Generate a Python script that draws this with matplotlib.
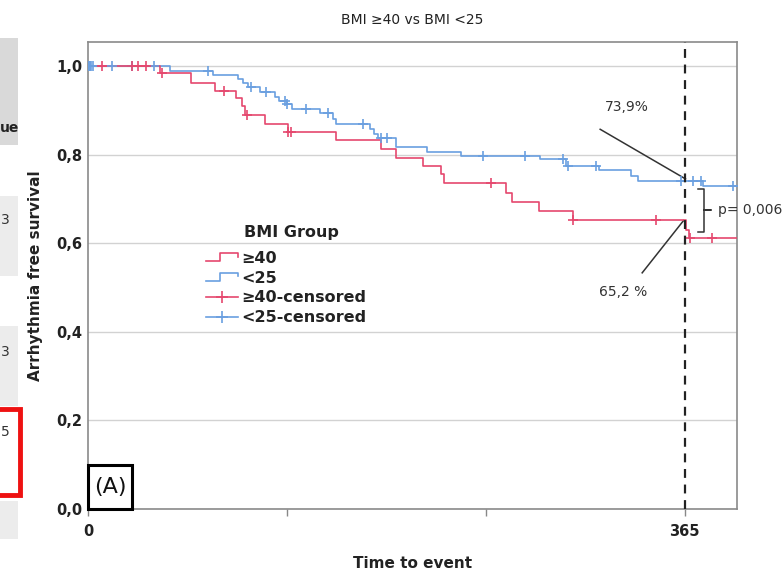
import numpy as np
import matplotlib.pyplot as plt
from matplotlib.lines import Line2D
from matplotlib.patches import Rectangle
from matplotlib.legend_handler import HandlerBase

plt.rcParams['font.family'] = ['DejaVu Sans']

# Kaplan-Meier steps (time in days, survival after step)
red_t = [0, 44, 63, 77.6, 90.5, 94, 96, 108, 122.5, 152, 179.5, 188.7, 205,
         216, 217.5, 256, 259.6, 276, 296.7, 365.5, 367.5]
red_s = [1.0, 0.983, 0.962, 0.944, 0.928, 0.910, 0.890, 0.870, 0.852, 0.832,
         0.812, 0.792, 0.774, 0.755, 0.735, 0.714, 0.692, 0.673, 0.652, 0.630, 0.611]
red_cens = [8.4, 26.7, 30.8, 35.5, 45.4, 83, 97, 122.5, 124, 246.7, 296.7,
            347.6, 368, 382]

blue_t = [0, 50, 76.6, 92, 95, 98, 105, 114.6, 117, 121.5, 124.5, 141.8, 150,
          152, 172.4, 175, 177.5, 188.7, 207.5, 228, 276.3, 292.6, 312.5, 332.3,
          336.4, 376]
blue_s = [1.0, 0.989, 0.980, 0.970, 0.961, 0.952, 0.941, 0.930, 0.921, 0.913,
          0.903, 0.894, 0.880, 0.870, 0.858, 0.847, 0.837, 0.816, 0.806, 0.797,
          0.789, 0.775, 0.764, 0.752, 0.741, 0.730]
blue_cens = [0, 0.7, 1.4, 2.1, 2.8, 14.5, 26.7, 40.3, 73.5, 100, 109, 120.4,
             121.5, 133.6, 146.7, 168.3, 179.5, 182.6, 241.6, 267.1, 290.6,
             293.6, 311, 362.9, 370, 375, 394.5]
t_end = 398

labels = ['\u226540', '<25', '\u226540-censored', '<25-censored']
RED = '#e5486e'
BLUE = '#6a9fe0'


def surv_at(t, s, c):
    idx = np.searchsorted(t, c, side='right') - 1
    return np.array(s)[idx]


class StepHandler(HandlerBase):
    def create_artists(self, legend, orig_handle, xd, yd, w, h, fontsize, trans):
        x0, y0 = -xd, -yd
        xs = [x0, x0 + 0.45 * w, x0 + 0.45 * w, x0 + w, x0 + w]
        ys = [y0 + 0.15 * h, y0 + 0.15 * h, y0 + 0.85 * h, y0 + 0.85 * h, y0 + 0.55 * h]
        ln = Line2D(xs, ys, color=orig_handle.get_color(), lw=orig_handle.get_linewidth())
        ln.set_transform(trans)
        return [ln]


fig = plt.figure(figsize=(7.84, 5.71), dpi=100)
ax = fig.add_axes([88 / 784, 1 - 509 / 571, 649 / 784, 467 / 571])

# screenshot leftovers on the left edge
def px_rect(x0, y0, x1, y1, **kw):
    fig.add_artist(Rectangle((x0 / 784, 1 - y1 / 571), (x1 - x0) / 784, (y1 - y0) / 571,
                             transform=fig.transFigure, **kw))

px_rect(0, 38, 18, 145, fc='#d9d9d9', ec='none')
px_rect(0, 196, 18, 276, fc='#ececec', ec='none')
px_rect(0, 326, 18, 406, fc='#ececec', ec='none')
px_rect(0, 501, 18, 539, fc='#ececec', ec='none')
px_rect(-5, 409, 20, 495, fc='none', ec='#ee1111', lw=3.5)
fig.text(19 / 784, 1 - 128 / 571, 'ue', ha='right', va='center', fontsize=10, fontweight='bold', color='#222')
fig.text(1 / 784, 1 - 220 / 571, '3', ha='left', va='center', fontsize=10, color='#333')
fig.text(1 / 784, 1 - 352 / 571, '3', ha='left', va='center', fontsize=10, color='#333')
fig.text(1 / 784, 1 - 432 / 571, '5', ha='left', va='center', fontsize=10, color='#333')

# curves
ax.step(np.append(blue_t, t_end), np.append(blue_s, blue_s[-1]), where='post',
        color=BLUE, lw=1.2, zorder=3)
ax.step(np.append(red_t, t_end), np.append(red_s, red_s[-1]), where='post',
        color=RED, lw=1.2, zorder=3)
ax.plot(blue_cens, surv_at(blue_t, blue_s, blue_cens), ls='none', marker='+',
        ms=6.5, mew=1.2, color=BLUE, zorder=4)
ax.plot(red_cens, surv_at(red_t, red_s, red_cens), ls='none', marker='+',
        ms=6.5, mew=1.2, color=RED, zorder=4)

ax.set_xlim(0, 397)
ax.set_ylim(0, 1.054)
ax.set_xticks([0, 365 / 3, 2 * 365 / 3, 365])
ax.set_xticklabels(['0', '', '', '365'])
ax.set_yticks([0, 0.2, 0.4, 0.6, 0.8, 1.0])
ax.set_yticklabels(['0,0', '0,2', '0,4', '0,6', '0,8', '1,0'])
ax.tick_params(axis='x', length=5, width=1, color='#888', pad=6,
               labelsize=10.5, labelcolor='#222')
ax.tick_params(axis='y', length=0, pad=4, labelsize=10.5, labelcolor='#222')
for lab in ax.get_xticklabels() + ax.get_yticklabels():
    lab.set_fontweight('bold')
ax.grid(axis='y', color='#d2d2d2', lw=1)
ax.set_axisbelow(True)
for sp in ax.spines.values():
    sp.set_color('#8a8a8a')
    sp.set_linewidth(1.2)

ax.set_title('BMI \u226540 vs BMI <25', fontsize=10, pad=13, color='#222')
ax.set_xlabel('Time to event', fontsize=11, fontweight='bold', color='#222')
ax.set_ylabel('Arrhythmia free survival', fontsize=11, fontweight='bold', color='#222')
ax.xaxis.set_label_coords(0.5, -0.10)
ax.yaxis.set_label_coords(-0.069, 0.5)

# 1-year marker and annotations
ax.axvline(365, color='#222', ls=(0, (4, 3)), lw=1.6, zorder=5)
ax.plot([313.3, 365.5], [0.857, 0.745], color='#333', lw=1.1)
ax.text(329.3, 0.908, '73,9%', ha='center', va='center', fontsize=10, color='#333')
ax.plot([339, 364.3], [0.533, 0.651], color='#333', lw=1.1)
ax.text(327.2, 0.490, '65,2 %', ha='center', va='center', fontsize=10, color='#333')
ax.plot([373, 377, 377, 381, 377, 377, 373],
        [0.722, 0.722, 0.674, 0.674, 0.674, 0.626, 0.626],
        color='#333', lw=1.1, clip_on=False)
ax.text(385.5, 0.674, 'p= 0,006', ha='left', va='center', fontsize=10,
        color='#333', clip_on=False)

# (A) panel tag
ax.add_patch(Rectangle((0, 0), 0.068, 0.094, transform=ax.transAxes, fc='white',
                       ec='black', lw=2.2, zorder=6, clip_on=False))
ax.text(0.034, 0.047, '(A)', transform=ax.transAxes, ha='center', va='center',
        fontsize=16, color='#111', zorder=7)

# legend
h_red = Line2D([], [], color=RED, lw=1.2)
h_blue = Line2D([], [], color=BLUE, lw=1.2)
h_red_c = Line2D([], [], color=RED, lw=1.2, marker='+', ms=9, mew=1.2)
h_blue_c = Line2D([], [], color=BLUE, lw=1.2, marker='+', ms=9, mew=1.2)
leg = ax.legend([h_red, h_blue, h_red_c, h_blue_c], labels,
                handler_map={h_red: StepHandler(), h_blue: StepHandler()},
                loc='upper left', bbox_to_anchor=(0.182, 0.553), frameon=False,
                borderpad=0, borderaxespad=0, handlelength=2.0, handletextpad=0.2,
                labelspacing=0.3, prop={'size': 11.5, 'weight': 'bold'})
for t in leg.get_texts():
    t.set_color('#222')
ax.text(0.314, 0.593, 'BMI Group', transform=ax.transAxes, ha='center',
        va='center', fontsize=11.5, fontweight='bold', color='#222')

fig.savefig('out.png', dpi=100)
